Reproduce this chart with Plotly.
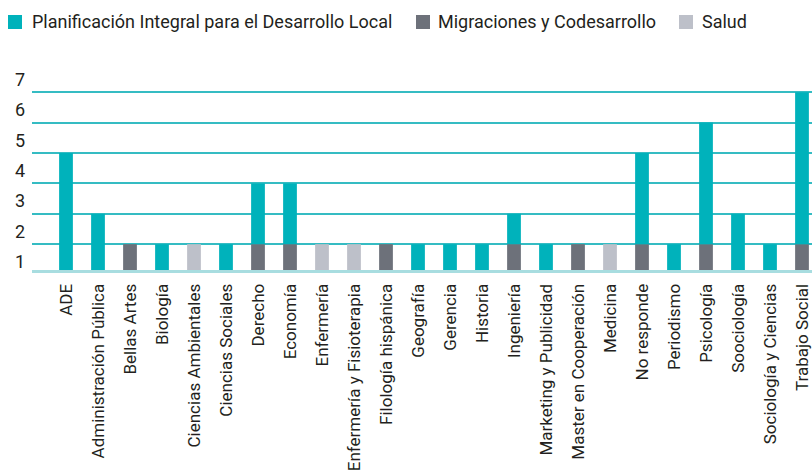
import plotly.graph_objects as go

categories = ["ADE", "Administración Pública", "Bellas Artes", "Biología", "Ciencias Ambientales",
              "Ciencias Sociales", "Derecho", "Economía", "Enfermería", "Enfermería y Fisioterapia",
              "Filología hispánica", "Geografía", "Gerencia", "Historia", "Ingeniería",
              "Marketing y Publicidad", "Master en Cooperación", "Medicina", "No responde",
              "Periodismo", "Psicología", "Soociología", "Sociología y Ciencias", "Trabajo Social"]

series_names = ["Planificación Integral para el Desarrollo Local", "Migraciones y Codesarrollo", "Salud"]

migraciones = [0, 0, 1, 0, 0, 0, 1, 1, 0, 0, 1, 0, 0, 0, 1, 0, 1, 0, 1, 0, 1, 0, 0, 1]
salud       = [0, 0, 0, 0, 1, 0, 0, 0, 1, 1, 0, 0, 0, 0, 0, 0, 0, 1, 0, 0, 0, 0, 0, 0]
planif      = [4, 2, 0, 1, 0, 1, 2, 2, 0, 0, 0, 1, 1, 1, 1, 1, 0, 0, 3, 1, 4, 2, 1, 5]

y_tick_labels = ["1", "2", "3", "4", "5", "6", "7"]
grid_values = [1, 2, 3, 4, 5, 6]

TEAL = "#00b2bb"
GRAY = "#6d717a"
LIGHT = "#bdc0c9"
FONT = "Roboto, Liberation Sans, sans-serif"
TXT = "#231f20"

W, H = 812, 475
ML, MR, MT, MB = 32, 0, 62, 205
PW, PH = W - ML - MR, H - MT - MB

fig = go.Figure()
fig.add_trace(go.Bar(x=categories, y=migraciones, name=series_names[1], marker_color=GRAY,
                     width=0.43, base=0))
fig.add_trace(go.Bar(x=categories, y=salud, name=series_names[2], marker_color=LIGHT,
                     width=0.43, base=0))
fig.add_trace(go.Bar(x=categories, y=planif, name=series_names[0], marker_color=TEAL,
                     width=0.43, base=[m + s for m, s in zip(migraciones, salud)]))

fig.update_traces(marker_line_width=0, showlegend=False)

def px_x(px):
    return (px - ML) / PW

def px_y(py):
    return (H - MB - py) / PH

shapes = []
annotations = []
legend_items = [(8, 32, TEAL, series_names[0]), (416, 438, GRAY, series_names[1]),
                (679, 702, LIGHT, series_names[2])]
for sq_x, tx, col, name in legend_items:
    shapes.append(dict(type="rect", xref="paper", yref="paper",
                       x0=px_x(sq_x), x1=px_x(sq_x + 14), y0=px_y(29), y1=px_y(15),
                       fillcolor=col, line_width=0, layer="above"))
    annotations.append(dict(text=name, xref="paper", yref="paper", x=px_x(tx - 2), y=px_y(21),
                            xanchor="left", yanchor="middle", showarrow=False,
                            font=dict(family=FONT, size=18, color=TXT)))

y0 = 0.15
ppu = 30.4
y1 = y0 + PH / ppu
tick_positions = [k + 0.42 for k in range(len(y_tick_labels))]

fig.update_layout(
    width=W, height=H,
    margin=dict(l=ML, r=MR, t=MT, b=MB),
    paper_bgcolor="white", plot_bgcolor="white",
    barmode="overlay",
    shapes=shapes, annotations=annotations,
    font=dict(family=FONT, size=18, color=TXT),
    xaxis=dict(type="category", range=[-(66 - ML) / 32, -(66 - ML) / 32 + PW / 32],
               tickangle=-90, showgrid=False, ticks="", showline=True, automargin=False,
               linecolor="#a8dde0", linewidth=3, ticklabelstandoff=4,
               tickfont=dict(family=FONT, size=17, color=TXT)),
    yaxis=dict(range=[y0, y1], tickvals=tick_positions, ticktext=y_tick_labels, automargin=False,
               showgrid=False, zeroline=False, ticks="", ticklabelstandoff=6,
               tickfont=dict(family=FONT, size=18, color=TXT),
               minor=dict(tickvals=grid_values, showgrid=True, gridcolor="#35bcc3",
                          gridwidth=2, ticks="")),
)

fig.write_html("out.html", config={"displayModeBar": False},
               post_script="document.body.style.margin='0';document.body.style.overflow='hidden';")
